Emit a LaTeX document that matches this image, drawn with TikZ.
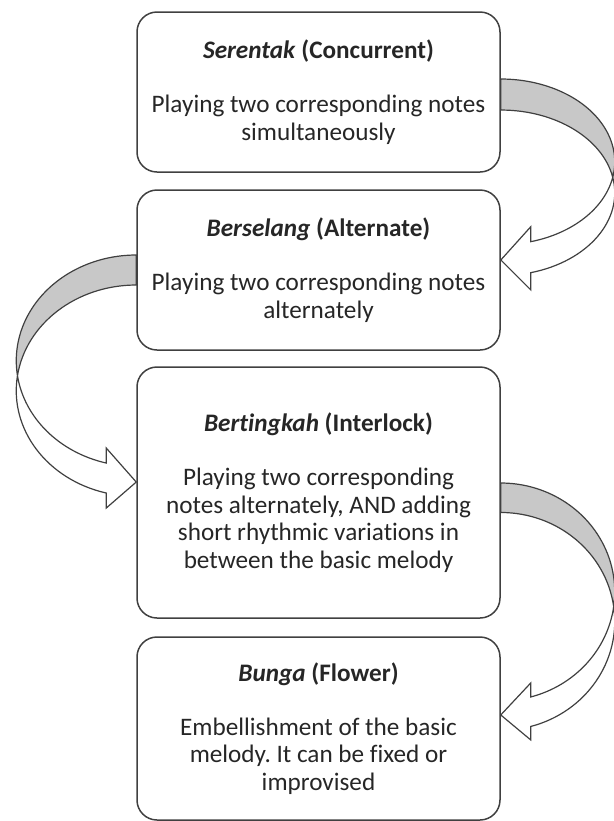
\documentclass[tikz,border=0pt]{standalone}
\usepackage{fontspec}
\setmainfont{Carlito}[Ligatures = NoCommon]
\frenchspacing
\usetikzlibrary{positioning, calc}
\definecolor{boxline}{HTML}{404040}
\definecolor{backface}{HTML}{C8C8C8}

\begin{document}
\begin{tikzpicture}[x=0.5pt, y=0.5pt]

\tikzset{
stage/.style = {rectangle, rounded corners = 10pt, draw = boxline, line width = 0.75pt,
	minimum width = 181.5pt, inner sep = 2pt, align = center, text = black!85,
	font = \fontsize{12.6}{13.7}\selectfont},
back/.style = {draw = boxline, line width = 0.6pt, fill = backface},
front/.style = {draw = boxline, line width = 0.6pt, fill = white},
}

\useasboundingbox (0,0) rectangle (614,-821);

%% Stages
\node at (318.5,-92) [stage, minimum height = 80pt] (serentak)
	{\textbf{\textit{Serentak} (Concurrent)}\\[13.4pt]
	Playing two corresponding notes\\ simultaneously};
\node at (318.5,-270) [stage, minimum height = 80pt] (berselang)
	{\textbf{\textit{Berselang} (Alternate)}\\[13.4pt]
	Playing two corresponding notes\\ alternately};
\node at (318.5,-492.5) [stage, minimum height = 125.5pt] (bertingkah)
	{\textbf{\textit{Bertingkah} (Interlock)}\\[13.4pt]
	Playing two corresponding\\ notes alternately, AND adding\\
	short rhythmic variations in\\ between the basic melody};
\node at (318.5,-728.5) [stage, minimum height = 91.5pt] (bunga)
	{\textbf{\textit{Bunga} (Flower)}\\[13.4pt]
	Embellishment of the basic\\ melody. It can be fixed or\\ improvised};

%% Curved arrows
% Serentak -> Berselang
\path [back] ($(serentak.east)+(0,13)$)
	arc [start angle = 90, end angle = -10.8, x radius = 114, y radius = 82.8] coordinate (x1)
	arc [start angle = 10.8, end angle = 90, x radius = 114, y radius = 82.8] -- cycle;
\path [front] (x1)
	arc [start angle = -10.8, end angle = -74.7, x radius = 114, y radius = 82.8]
	-- ++(0,15) -- ++(-30,-33.3) -- ++(30,-30) -- ++(0,17.3)
	arc [start angle = -74.7, end angle = 10.8, x radius = 114, y radius = 82.8] -- cycle;

% Berselang -> Bertingkah
\path [back] ($(berselang.west)+(0,15)$)
	arc [start angle = 90, end angle = 188.16, x radius = 120, y radius = 105.7] coordinate (x2)
	arc [start angle = 171.84, end angle = 90, x radius = 120, y radius = 105.7] -- cycle;
\path [front] (x2)
	arc [start angle = 188.16, end angle = 255.52, x radius = 120, y radius = 105.7]
	-- ++(0,15) -- ++(30,-34) -- ++(-30,-26) -- ++(0,15)
	arc [start angle = 255.52, end angle = 171.84, x radius = 120, y radius = 105.7] -- cycle;

% Bertingkah -> Bunga
\path [back] ($(bertingkah.east)+(0,9.5)$)
	arc [start angle = 90, end angle = -7.78, x radius = 114, y radius = 108.9] coordinate (x3)
	arc [start angle = 7.78, end angle = 90, x radius = 114, y radius = 108.9] -- cycle;
\path [front] (x3)
	arc [start angle = -7.78, end angle = -74.74, x radius = 114, y radius = 108.9]
	-- ++(0,14) -- ++(-30,-32) -- ++(30,-25) -- ++(0,13.5)
	arc [start angle = -74.74, end angle = 7.78, x radius = 114, y radius = 108.9] -- cycle;

\end{tikzpicture}
\end{document}
